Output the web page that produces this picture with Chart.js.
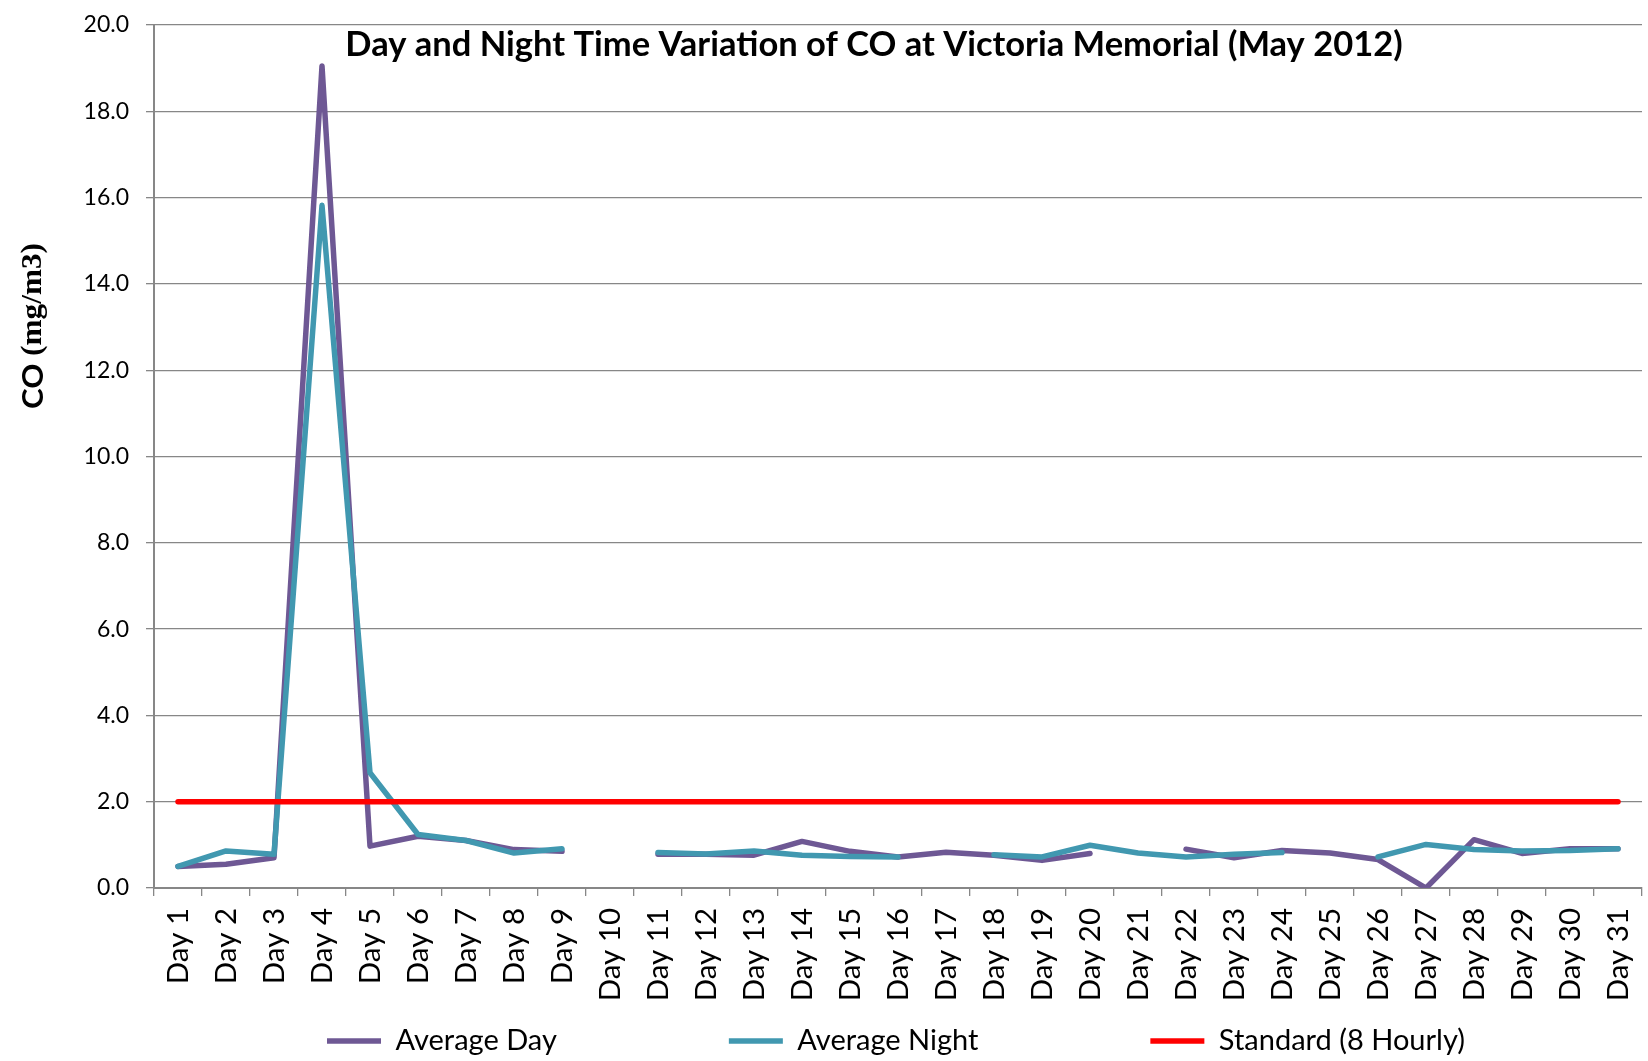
<!DOCTYPE html>
<html>
<head>
<meta charset="utf-8">
<style>
  html, body { margin: 0; padding: 0; background: #ffffff; }
  #wrap { width: 1648px; height: 1061px; position: relative; }
</style>
<script src="https://cdn.jsdelivr.net/npm/chart.js@4"></script>
</head>
<body>
<div id="wrap"><canvas id="chart"></canvas></div>
<script>
// ---------------- DATA ----------------
const chartTitle = 'Day and Night Time Variation of CO at Victoria Memorial (May 2012)';
const yAxisTitleParts = ['CO ', '(mg/m3)'];

const categories = [
  'Day 1', 'Day 2', 'Day 3', 'Day 4', 'Day 5', 'Day 6', 'Day 7', 'Day 8', 'Day 9', 'Day 10',
  'Day 11', 'Day 12', 'Day 13', 'Day 14', 'Day 15', 'Day 16', 'Day 17', 'Day 18', 'Day 19', 'Day 20',
  'Day 21', 'Day 22', 'Day 23', 'Day 24', 'Day 25', 'Day 26', 'Day 27', 'Day 28', 'Day 29', 'Day 30', 'Day 31'
];

const averageDay = [
  0.50, 0.55, 0.70, 19.05, 0.97, 1.20, 1.10, 0.89, 0.85, null,
  0.78, 0.78, 0.76, 1.08, 0.85, 0.72, 0.83, 0.76, 0.64, 0.80,
  null, 0.90, 0.70, 0.87, 0.81, 0.66, 0.00, 1.12, 0.80, 0.91, 0.91
];

const averageNight = [
  0.50, 0.86, 0.78, 15.82, 2.67, 1.24, 1.10, 0.81, 0.91, null,
  0.82, 0.79, 0.86, 0.76, 0.73, 0.72, null, 0.77, 0.72, 0.99,
  0.81, 0.72, 0.78, 0.82, null, 0.72, 1.01, 0.89, 0.86, 0.87, 0.91
];

const standard8Hourly = [
  2.0, 2.0, 2.0, 2.0, 2.0, 2.0, 2.0, 2.0, 2.0, 2.0,
  2.0, 2.0, 2.0, 2.0, 2.0, 2.0, 2.0, 2.0, 2.0, 2.0,
  2.0, 2.0, 2.0, 2.0, 2.0, 2.0, 2.0, 2.0, 2.0, 2.0, 2.0
];

const seriesNames = ['Average Day', 'Average Night', 'Standard (8 Hourly)'];
const yTickLabels = ['0.0', '2.0', '4.0', '6.0', '8.0', '10.0', '12.0', '14.0', '16.0', '18.0', '20.0'];

// ---------------- STYLE / LAYOUT ----------------
const COLORS = { day: '#6E5894', night: '#4198B0', standard: '#FF0000', grid: '#878787', text: '#000000' };
const Y_AXIS_WIDTH = 154;
const X_AXIS_HEIGHT = 133;
const LEGEND_BOX_HEIGHT = 40;
const LEGEND_GAP = 172;
const LEGEND_START_X = 327;
const LEGEND_TEXT_MID_Y = 1041;
const LEGEND_FONT = 29;
const TITLE_CENTER_X = 874;
const TITLE_MID_Y = 45;
const Y_TITLE_X = 34;
const Y_TITLE_Y = 326;
const Y_TITLE_LEN = 166;

const layoutTweaks = {
  id: 'layoutTweaks',
  afterLayout(chart) {
    const tb = chart.titleBlock;
    if (tb) {
      const lh = tb.options.font && tb.options.font.lineHeight ? parseFloat(tb.options.font.lineHeight) : 20;
      const dy = TITLE_MID_Y - (tb.top + lh / 2);
      const dx = TITLE_CENTER_X - (tb.left + tb.right) / 2;
      tb.top += dy; tb.bottom += dy; tb.left += dx; tb.right += dx;
    }
    const lg = chart.legend;
    if (lg && lg.lineWidths) {
      const p = lg.options.labels.padding;
      const start = (lg.left + p + lg.right - lg.lineWidths[0]) / 2;
      const dx = LEGEND_START_X - start;
      const dy = LEGEND_TEXT_MID_Y - (lg.top + p + LEGEND_FONT / 2);
      lg.left += dx; lg.right += dx; lg.top += dy;
      lg.bottom = chart.height;
      lg.height = lg.bottom - lg.top;
      lg.width = lg.right - lg.left;
    }
  }
};

const yTitlePlugin = {
  id: 'yTitlePlugin',
  afterDraw(chart) {
    const c = chart.ctx;
    c.save();
    c.translate(Y_TITLE_X, Y_TITLE_Y);
    c.rotate(-Math.PI / 2);
    const f1 = 'bold 29px Lato';
    const f2 = 'bold 29px "Liberation Serif"';
    c.font = f1; const w1 = c.measureText(yAxisTitleParts[0]).width;
    c.font = f2; const w2 = c.measureText(yAxisTitleParts[1]).width;
    const sx = Y_TITLE_LEN / (w1 + w2);
    c.scale(sx, 1);
    c.fillStyle = COLORS.text;
    c.textBaseline = 'middle';
    c.textAlign = 'left';
    const x0 = -(w1 + w2) / 2;
    c.font = f1; c.fillText(yAxisTitleParts[0], x0, 0);
    c.font = f2; c.fillText(yAxisTitleParts[1], x0 + w1, 0);
    c.restore();
  }
};

const lineStyle = { borderWidth: 5.5, pointRadius: 0, pointHoverRadius: 0, tension: 0, borderCapStyle: 'round', borderJoinStyle: 'round', fill: false, spanGaps: false };

new Chart(document.getElementById('chart'), {
  type: 'line',
  data: {
    labels: categories,
    datasets: [
      Object.assign({ label: seriesNames[0], data: averageDay, borderColor: COLORS.day, backgroundColor: COLORS.day, order: 3 }, lineStyle),
      Object.assign({ label: seriesNames[1], data: averageNight, borderColor: COLORS.night, backgroundColor: COLORS.night, order: 2 }, lineStyle),
      Object.assign({ label: seriesNames[2], data: standard8Hourly, borderColor: COLORS.standard, backgroundColor: COLORS.standard, order: 1 }, lineStyle)
    ]
  },
  options: {
    responsive: true,
    maintainAspectRatio: false,
    animation: false,
    events: [],
    layout: { padding: { top: 5, right: 6, bottom: 0, left: 0 } },
    plugins: {
      title: {
        display: true,
        text: chartTitle,
        color: COLORS.text,
        padding: 0,
        font: { family: 'Lato', weight: 'bold', size: 34.5, lineHeight: '20px' }
      },
      legend: {
        display: true,
        position: 'bottom',
        maxHeight: LEGEND_BOX_HEIGHT,
        labels: {
          usePointStyle: true,
          pointStyle: 'line',
          pointStyleWidth: 54,
          padding: LEGEND_GAP,
          color: COLORS.text,
          font: { family: 'Lato', size: LEGEND_FONT },
          sort: (a, b) => a.datasetIndex - b.datasetIndex
        }
      },
      tooltip: { enabled: false }
    },
    scales: {
      x: {
        type: 'category',
        offset: true,
        grid: { display: true, drawOnChartArea: false, drawTicks: true, tickLength: 8, offset: true, color: COLORS.grid, lineWidth: 1.3 },
        border: { display: true, color: COLORS.grid, width: 2 },
        ticks: { autoSkip: false, maxRotation: 90, minRotation: 90, padding: 12, color: COLORS.text, font: { family: 'Lato', size: 29.5 } },
        afterFit(scale) { scale.height = X_AXIS_HEIGHT; scale.paddingLeft = 0; scale.paddingRight = 0; }
      },
      y: {
        min: 0,
        max: 20,
        ticks: {
          stepSize: 2,
          padding: 17,
          color: COLORS.text,
          font: { family: 'Lato', size: 23 },
          callback: (v, i) => yTickLabels[i]
        },
        grid: { color: COLORS.grid, lineWidth: 1.3, tickLength: 8, drawTicks: true },
        border: { display: true, color: COLORS.grid, width: 2 },
        afterFit(scale) { scale.width = Y_AXIS_WIDTH; scale.paddingTop = 0; scale.paddingBottom = 0; }
      }
    }
  },
  plugins: [layoutTweaks, yTitlePlugin]
});
</script>
</body>
</html>
